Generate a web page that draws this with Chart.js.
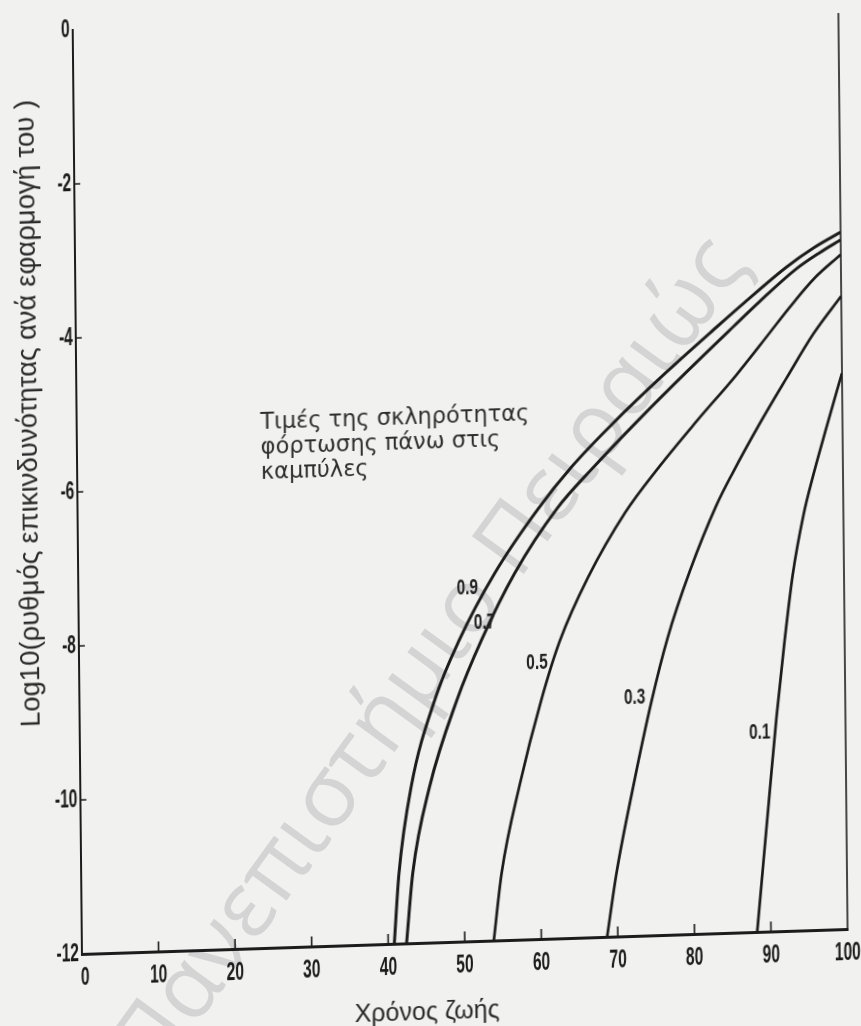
<!DOCTYPE html>
<html lang="el">
<head>
<meta charset="utf-8">
<title>Ρυθμός επικινδυνότητας και χρόνος ζωής</title>
<script src="https://cdn.jsdelivr.net/npm/chart.js@4.4.1/dist/chart.umd.min.js"></script>
<style>
  html, body { margin: 0; padding: 0; width: 861px; height: 1026px; overflow: hidden; background: #f1f1f0; }
  #mark {
    position: absolute; left: 424px; top: 652px;
    transform: translate(-50%, -50%) rotate(-54deg);
    font: 90px 'Open Sans', 'Noto Sans', sans-serif; color: #d4d4d4;
    white-space: nowrap; line-height: 1;
  }
  /* the printed page sits slightly askew: bottom edge rises to the right */
  #wrap {
    position: absolute; left: 0; top: 0; width: 861px; height: 1050px;
    transform-origin: 82px 954px;
    transform: matrix(1, -0.0326, 0.01, 1, 0, 0);
  }
  canvas { display: block; }
</style>
</head>
<body>
<div id="mark">Πανεπιστήμιο Πειραιώς</div>
<div id="wrap"><canvas id="c" width="861" height="1050"></canvas></div>
<script>
// Curve parameters (loading severity) and their life-time / log10 hazard rate points
const severities = ['0.9', '0.7', '0.5', '0.3', '0.1'];

const life09 = [40.8, 41.5, 43.2, 46.4, 49.7, 54.4, 60.1, 64.6, 70.4, 77.0, 83.8, 87.4, 92.9, 96.5, 100];
const rate09 = [-12, -11.09, -9.97, -8.85, -8.08, -7.23, -6.42, -5.88, -5.30, -4.70, -4.12, -3.82, -3.38, -3.14, -2.95];

const life07 = [42.4, 43.3, 45.6, 49.3, 52.6, 57.0, 62.6, 67.6, 73.4, 79.7, 86.0, 89.3, 94.0, 97.2, 100];
const rate07 = [-12, -11.09, -9.98, -8.86, -8.09, -7.24, -6.42, -5.88, -5.30, -4.70, -4.12, -3.82, -3.42, -3.21, -3.05];

const life05 = [53.8, 54.9, 57.4, 60.3, 62.8, 66.6, 71.5, 76.0, 80.9, 86.2, 90.5, 93.2, 96.6, 100];
const rate05 = [-12, -11.13, -9.98, -8.90, -8.14, -7.32, -6.50, -5.92, -5.35, -4.76, -4.24, -3.91, -3.53, -3.24];

const life03 = [68.6, 69.9, 72.2, 74.7, 76.9, 79.9, 83.4, 85.6, 89.2, 92.7, 96.3, 100];
const rate03 = [-12, -11.18, -10.06, -8.96, -8.14, -7.28, -6.45, -6.03, -5.40, -4.83, -4.26, -3.78];

const life01 = [88.2, 89.0, 90.0, 91.0, 92.1, 93.3, 94.8, 96.1, 97.9, 100];
const rate01 = [-12, -11.2, -10.2, -9.22, -8.28, -7.38, -6.6, -6.1, -5.48, -4.78];

// Axis ticks and their printed labels
const lifeTicks = [0, 10, 20, 30, 40, 50, 60, 70, 80, 90, 100];
const lifeTickLabels = ['0', '10', '20', '30', '40', '50', '60', '70', '80', '90', '100'];
const rateTicks = [-12, -10, -8, -6, -4, -2, 0];
const rateTickLabels = ['-12', '-10', '-8', '-6', '-4', '-2', '0'];

// Texts
const xTitle = 'Χρόνος ζωής';
const yTitle = 'Log10(ρυθμός επικινδυνότητας ανά εφαρμογή του )';
const noteLines = ['Τιμές της σκληρότητας', 'φόρτωσης πάνω στις', 'καμπύλες'];

// Where each severity label sits (data coordinates), just left of its curve
const labelSpots = [[50.8, -7.41], [53.0, -7.87], [59.8, -8.41], [72.5, -8.91], [88.8, -9.42]];
const noteSpot = [24.0, -5.26];

const SANS = "'Liberation Sans', Arial, sans-serif";
const ROUND = "'DejaVu Sans', 'Liberation Sans', sans-serif";
const INK = '#1c1c1c';

const curves = [
  [life09, rate09], [life07, rate07], [life05, rate05], [life03, rate03], [life01, rate01]
];

const datasets = curves.map(([t, r], i) => ({
  label: severities[i],
  data: t.map((v, k) => ({ x: v, y: r[k] })),
  borderColor: INK,
  borderWidth: i < 2 ? 3 : 2.7,
  pointRadius: 0,
  fill: false,
  cubicInterpolationMode: 'monotone'
}));

// tall, narrow figures like the printed digits
function narrowText(ctx, text, x, y, size, squeeze, align) {
  ctx.save();
  ctx.translate(x, y);
  ctx.scale(squeeze, 1);
  ctx.font = 'bold ' + size + 'px ' + SANS;
  ctx.textAlign = align;
  ctx.textBaseline = 'middle';
  ctx.fillText(text, 0, 0);
  ctx.restore();
}

const decor = {
  id: 'decor',
  afterDraw(chart) {
    const { ctx, chartArea: a, scales: { x, y } } = chart;
    ctx.save();
    ctx.strokeStyle = INK;

    // right frame line
    ctx.lineWidth = 1.6;
    ctx.beginPath();
    ctx.moveTo(x.getPixelForValue(100), y.getPixelForValue(0) + 8);
    ctx.lineTo(x.getPixelForValue(100), y.getPixelForValue(-12) + 1);
    ctx.stroke();

    // inward tick marks
    ctx.lineWidth = 1.6;
    ctx.beginPath();
    x.ticks.forEach(t => {
      if (t.value <= 0 || t.value >= 100) return;
      const px = x.getPixelForValue(t.value);
      ctx.moveTo(px, a.bottom);
      ctx.lineTo(px, a.bottom - 10);
    });
    y.ticks.forEach(t => {
      if (t.value <= -12 || t.value >= 0) return;
      const py = y.getPixelForValue(t.value);
      ctx.moveTo(a.left, py);
      ctx.lineTo(a.left + 6, py);
    });
    ctx.stroke();

    // tick labels
    ctx.fillStyle = '#1b1b1b';
    x.ticks.forEach((t, i) => {
      narrowText(ctx, lifeTickLabels[i], x.getPixelForValue(t.value) + (i === 0 ? 3 : 0), a.bottom + 24, 26, 0.6, 'center');
    });
    y.ticks.forEach((t, i) => {
      narrowText(ctx, rateTickLabels[i], a.left - 3, y.getPixelForValue(t.value), 26, 0.6, 'right');
    });

    // severity labels on the curves
    ctx.fillStyle = '#222';
    severities.forEach((s, i) => {
      narrowText(ctx, s, x.getPixelForValue(labelSpots[i][0]), y.getPixelForValue(labelSpots[i][1]), 22, 0.7, 'center');
    });

    // note
    ctx.fillStyle = '#2e2e2e';
    ctx.font = '22.5px ' + ROUND;
    ctx.textAlign = 'left';
    ctx.textBaseline = 'alphabetic';
    const nx = x.getPixelForValue(noteSpot[0]);
    const ny = y.getPixelForValue(noteSpot[1]);
    noteLines.forEach((line, i) => ctx.fillText(line, nx, ny + i * 25));

    // axis titles
    ctx.fillStyle = '#2a2a2a';
    ctx.textAlign = 'center';
    ctx.textBaseline = 'middle';
    ctx.font = '25px ' + SANS;
    ctx.fillText(xTitle, x.getPixelForValue(45), a.bottom + 70);
    ctx.save();
    ctx.translate(a.left - 48, y.getPixelForValue(-4.96));
    ctx.rotate(-Math.PI / 2);
    ctx.font = '27.5px ' + SANS;
    ctx.fillText(yTitle, 0, 0);
    ctx.restore();

    ctx.restore();
  }
};

new Chart(document.getElementById('c'), {
  type: 'line',
  data: { datasets },
  options: {
    responsive: false,
    animation: false,
    devicePixelRatio: 1,
    layout: { padding: { left: 0, right: 13, top: 30, bottom: 36 } },
    plugins: { legend: { display: false }, tooltip: { enabled: false } },
    scales: {
      x: {
        type: 'linear', min: 0, max: 100,
        afterFit: s => { s.height = 60; },
        afterBuildTicks: s => { s.ticks = lifeTicks.map(v => ({ value: v })); },
        ticks: { display: false },
        grid: { display: false, drawTicks: false },
        border: { display: true, color: INK, width: 3 }
      },
      y: {
        type: 'linear', min: -12, max: 0,
        afterFit: s => { s.width = 82; },
        afterBuildTicks: s => { s.ticks = rateTicks.map(v => ({ value: v })); },
        ticks: { display: false },
        grid: { display: false, drawTicks: false },
        border: { display: true, color: INK, width: 2 }
      }
    }
  },
  plugins: [decor]
});
</script>
</body>
</html>
